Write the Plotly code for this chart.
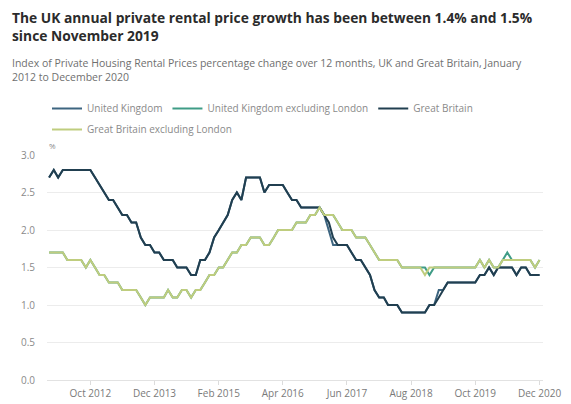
import plotly.graph_objects as go
import pandas as pd

# Monthly, January 2012 to December 2020
months = pd.date_range("2012-01-01", "2020-12-01", freq="MS").strftime("%Y-%m-%d").tolist()

great_britain = [
    2.7, 2.8, 2.7, 2.8, 2.8, 2.8, 2.8, 2.8, 2.8, 2.8, 2.7, 2.6,
    2.5, 2.4, 2.4, 2.3, 2.2, 2.2, 2.1, 2.1, 1.9, 1.8, 1.8, 1.7,
    1.7, 1.6, 1.6, 1.6, 1.5, 1.5, 1.5, 1.4, 1.4, 1.6, 1.6, 1.7,
    1.9, 2.0, 2.1, 2.2, 2.4, 2.5, 2.4, 2.7, 2.7, 2.7, 2.7, 2.5,
    2.6, 2.6, 2.6, 2.6, 2.5, 2.4, 2.4, 2.3, 2.3, 2.3, 2.3, 2.3,
    2.2, 2.1, 1.9, 1.8, 1.8, 1.8, 1.7, 1.6, 1.6, 1.5, 1.4, 1.2,
    1.1, 1.1, 1.0, 1.0, 1.0, 0.9, 0.9, 0.9, 0.9, 0.9, 0.9, 1.0,
    1.0, 1.1, 1.2, 1.3, 1.3, 1.3, 1.3, 1.3, 1.3, 1.3, 1.4, 1.4,
    1.5, 1.4, 1.5, 1.5, 1.5, 1.5, 1.4, 1.5, 1.5, 1.4, 1.4, 1.4,
]

united_kingdom = [
    2.7, 2.8, 2.7, 2.8, 2.8, 2.8, 2.8, 2.8, 2.8, 2.8, 2.7, 2.6,
    2.5, 2.4, 2.4, 2.3, 2.2, 2.2, 2.1, 2.1, 1.9, 1.8, 1.8, 1.7,
    1.7, 1.6, 1.6, 1.6, 1.5, 1.5, 1.5, 1.4, 1.4, 1.6, 1.6, 1.7,
    1.9, 2.0, 2.1, 2.2, 2.4, 2.5, 2.4, 2.7, 2.7, 2.7, 2.7, 2.5,
    2.6, 2.6, 2.6, 2.6, 2.5, 2.4, 2.4, 2.3, 2.3, 2.3, 2.3, 2.3,
    2.2, 2.0, 1.8, 1.8, 1.8, 1.8, 1.7, 1.6, 1.6, 1.5, 1.4, 1.2,
    1.1, 1.1, 1.0, 1.0, 1.0, 0.9, 0.9, 0.9, 0.9, 0.9, 0.9, 1.0,
    1.0, 1.2, 1.2, 1.3, 1.3, 1.3, 1.3, 1.3, 1.3, 1.3, 1.4, 1.4,
    1.5, 1.4, 1.5, 1.5, 1.5, 1.5, 1.4, 1.5, 1.5, 1.4, 1.4, 1.4,
]

gb_excl_london = [
    1.7, 1.7, 1.7, 1.7, 1.6, 1.6, 1.6, 1.6, 1.5, 1.6, 1.5, 1.4,
    1.4, 1.3, 1.3, 1.3, 1.2, 1.2, 1.2, 1.2, 1.1, 1.0, 1.1, 1.1,
    1.1, 1.1, 1.2, 1.1, 1.1, 1.2, 1.2, 1.1, 1.2, 1.2, 1.3, 1.4,
    1.4, 1.5, 1.5, 1.6, 1.7, 1.7, 1.8, 1.8, 1.9, 1.9, 1.9, 1.8,
    1.8, 1.9, 2.0, 2.0, 2.0, 2.0, 2.1, 2.1, 2.1, 2.2, 2.2, 2.3,
    2.2, 2.2, 2.2, 2.1, 2.0, 2.0, 2.0, 1.9, 1.9, 1.9, 1.8, 1.7,
    1.6, 1.6, 1.6, 1.6, 1.6, 1.5, 1.5, 1.5, 1.5, 1.5, 1.4, 1.5,
    1.5, 1.5, 1.5, 1.5, 1.5, 1.5, 1.5, 1.5, 1.5, 1.5, 1.6, 1.5,
    1.6, 1.5, 1.5, 1.6, 1.6, 1.6, 1.6, 1.6, 1.6, 1.6, 1.5, 1.6,
]

uk_excl_london = [
    1.7, 1.7, 1.7, 1.7, 1.6, 1.6, 1.6, 1.6, 1.5, 1.6, 1.5, 1.4,
    1.4, 1.3, 1.3, 1.3, 1.2, 1.2, 1.2, 1.2, 1.1, 1.0, 1.1, 1.1,
    1.1, 1.1, 1.2, 1.1, 1.1, 1.2, 1.2, 1.1, 1.2, 1.2, 1.3, 1.4,
    1.4, 1.5, 1.5, 1.6, 1.7, 1.7, 1.8, 1.8, 1.9, 1.9, 1.9, 1.8,
    1.8, 1.9, 2.0, 2.0, 2.0, 2.0, 2.1, 2.1, 2.1, 2.2, 2.2, 2.3,
    2.2, 2.2, 2.2, 2.1, 2.0, 2.0, 2.0, 1.9, 1.9, 1.9, 1.8, 1.7,
    1.6, 1.6, 1.6, 1.6, 1.6, 1.5, 1.5, 1.5, 1.5, 1.5, 1.5, 1.4,
    1.5, 1.5, 1.5, 1.5, 1.5, 1.5, 1.5, 1.5, 1.5, 1.5, 1.6, 1.5,
    1.6, 1.5, 1.5, 1.6, 1.7, 1.6, 1.6, 1.6, 1.6, 1.6, 1.5, 1.6,
]

tick_vals = ["2012-10-01", "2013-12-01", "2015-02-01", "2016-04-01",
             "2017-06-01", "2018-08-01", "2019-10-01", "2020-12-01"]
tick_text = ["Oct 2012", "Dec 2013", "Feb 2015", "Apr 2016",
             "Jun 2017", "Aug 2018", "Oct 2019", "Dec 2020"]

series = [
    ("United Kingdom", united_kingdom, "#3d6580", "legend"),
    ("United Kingdom excluding London", uk_excl_london, "#3f9c86", "legend"),
    ("Great Britain", great_britain, "#213f50", "legend"),
    ("Great Britain excluding London", gb_excl_london, "#bfcd7e", "legend2"),
]

FONT = "Open Sans, Noto Sans, sans-serif"

fig = go.Figure()
for name, vals, color, leg in series:
    fig.add_trace(go.Scatter(
        x=months, y=vals, name=name, mode="lines",
        line=dict(color=color, width=2), legend=leg,
    ))

legend_common = dict(
    orientation="h", xanchor="left", yanchor="top",
    font=dict(family=FONT, size=10, color="#8a8a8a"),
    itemwidth=30, bgcolor="rgba(0,0,0,0)",
)

# The page body adds an 8px offset; the figure is sized to fill the rest.
fig.update_layout(
    width=563, height=396,
    paper_bgcolor="white", plot_bgcolor="white",
    margin=dict(l=39, r=28, t=147, b=24, autoexpand=False),
    font=dict(family=FONT, color="#777777", size=10),
    showlegend=True,
    legend=dict(x=0.0, y=(380 - 94) / 225, **legend_common),
    legend2=dict(x=0.0, y=(380 - 115) / 225, **legend_common),
    xaxis=dict(
        type="date",
        range=["2011-12-18", "2020-12-24"],
        tickvals=tick_vals, ticktext=tick_text,
        showgrid=False, zeroline=False,
        showline=True, linecolor="#e2e2e2", linewidth=1,
        ticks="outside", ticklen=4, tickcolor="#dcdcdc",
        tickfont=dict(size=10, color="#7a7a7a"),
    ),
    yaxis=dict(
        range=[0, 3.0], dtick=0.5, tickformat=".1f",
        showgrid=True, gridcolor="#ececec", gridwidth=1,
        zeroline=False, showline=False,
        ticks="", ticklabelstandoff=11,
        tickfont=dict(size=10, color="#8a8a8a"),
    ),
    annotations=[
        dict(
            text="The UK annual private rental price growth has been between 1.4% and 1.5%<br>since November 2019",
            xref="paper", yref="paper", x=-0.075, y=(380 - 6) / 225,
            xanchor="left", yanchor="top", align="left", showarrow=False,
            font=dict(family=FONT, size=13.8, color="#2b2b2b", weight="bold"),
        ),
        dict(
            text="Index of Private Housing Rental Prices percentage change over 12 months, UK and Great Britain, January<br>2012 to December 2020",
            xref="paper", yref="paper", x=-0.075, y=(380 - 54) / 225,
            xanchor="left", yanchor="top", align="left", showarrow=False,
            font=dict(family=FONT, size=10.5, color="#6f6f6f"),
        ),
        dict(
            text="%", xref="paper", yref="paper", x=0.0, y=(380 - 145) / 225,
            xanchor="left", yanchor="middle", showarrow=False,
            font=dict(family=FONT, size=8, color="#8a8a8a"),
        ),
    ],
)

fig.write_html("out.html")
